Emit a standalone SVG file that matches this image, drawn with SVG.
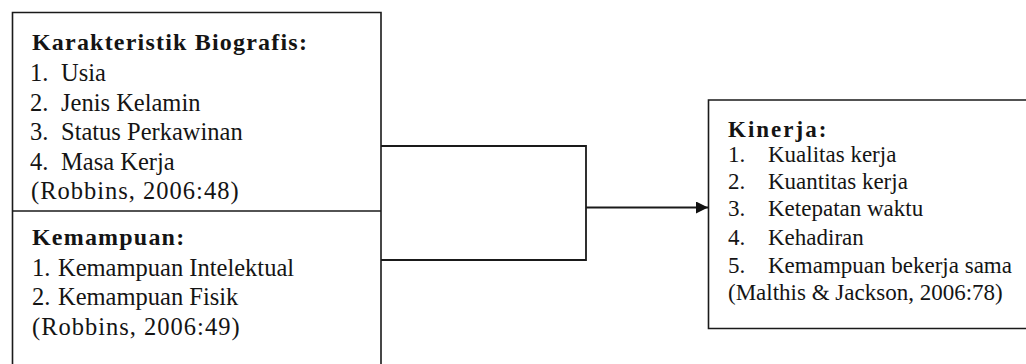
<svg xmlns="http://www.w3.org/2000/svg" width="1026" height="364" viewBox="0 0 1026 364" font-family="'Liberation Serif', 'Times New Roman', 'DejaVu Serif', serif">
<style>
text{fill:#141414}
.t{font-size:24px;font-weight:bold;letter-spacing:1.2px}
.l{font-size:24.5px}
.c{font-size:24.5px;letter-spacing:1px}
.r{font-size:23px}
.rt{font-size:23px;font-weight:bold;letter-spacing:2px}
.box{fill:none;stroke:#1a1a1a;stroke-width:1.6}
.conn{fill:none;stroke:#1a1a1a;stroke-width:1.8}
</style>
<defs>
<marker id="ah" markerWidth="12" markerHeight="12" viewBox="0 0 12 12" refX="12" refY="6" orient="auto" markerUnits="userSpaceOnUse">
<path d="M0,0 L12,6 L0,12 Z" fill="#111"/>
</marker>
</defs>
<rect width="1026" height="364" fill="#fff"/>
<g id="biografis">
<path class="box" d="M12.5,372 L12.5,12.5 L381,12.5 L381,372"/>
<text class="t" x="32" y="50">Karakteristik Biografis:</text>
<text class="l" x="30" y="81">1.</text><text class="l" x="61" y="81">Usia</text>
<text class="l" x="30" y="111">2.</text><text class="l" x="61" y="111">Jenis Kelamin</text>
<text class="l" x="30" y="140">3.</text><text class="l" x="61" y="140">Status Perkawinan</text>
<text class="l" x="30" y="170">4.</text><text class="l" x="61" y="170">Masa Kerja</text>
<text class="c" x="31" y="199">(Robbins, 2006:48)</text>
</g>
<g id="kemampuan">
<line class="box" x1="12.5" y1="211" x2="381" y2="211"/>
<text class="t" x="32" y="245">Kemampuan:</text>
<text class="l" x="32" y="276">1.</text><text class="l" x="58" y="276">Kemampuan Intelektual</text>
<text class="l" x="32" y="305">2.</text><text class="l" x="58" y="305">Kemampuan Fisik</text>
<text class="c" x="32" y="335">(Robbins, 2006:49)</text>
</g>
<g id="kinerja">
<path class="box" d="M1030,100 L708.5,100 L708.5,328.5 L1030,328.5"/>
<text class="rt" x="728" y="137">Kinerja:</text>
<text class="r" x="728" y="162">1.</text><text class="r" x="768" y="162">Kualitas kerja</text>
<text class="r" x="728" y="189">2.</text><text class="r" x="768" y="189">Kuantitas kerja</text>
<text class="r" x="728" y="216">3.</text><text class="r" x="768" y="216">Ketepatan waktu</text>
<text class="r" x="728" y="245">4.</text><text class="r" x="768" y="245">Kehadiran</text>
<text class="r" x="728" y="273">5.</text><text class="r" x="768" y="273">Kemampuan bekerja sama</text>
<text class="r" x="728" y="300">(Malthis &amp; Jackson, 2006:78)</text>
</g>
<g id="connectors">
<path class="conn" d="M381,146 L586,146 L586,260 L381,260"/>
<line class="conn" x1="586" y1="207.5" x2="708" y2="207.5" stroke-width="2.4" marker-end="url(#ah)"/>
</g>
</svg>
